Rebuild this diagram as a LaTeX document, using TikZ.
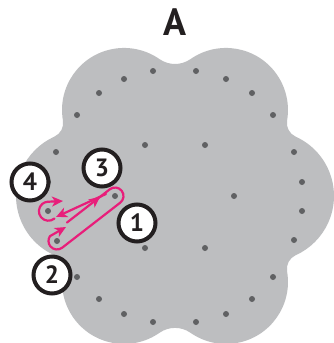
\documentclass[tikz,border=0pt]{standalone}
\usepackage{fontspec}
\setmainfont{PT Sans}
\usetikzlibrary{arrows.meta,decorations.markings}
\definecolor{shapegray}{RGB}{189,190,192}
\definecolor{dotgray}{RGB}{96,97,99}
\definecolor{threadpink}{RGB}{232,30,122}
\definecolor{inkblack}{RGB}{35,31,32}
\tikzset{
  peg/.style={circle,fill=dotgray,inner sep=0pt,minimum size=6pt},
  numcircle/.style={circle,draw=inkblack,line width=4pt,fill=white,minimum size=37pt,inner sep=0pt,
    font=\fontsize{25}{25}\selectfont\bfseries,text=inkblack},
  thread/.style={draw=threadpink,line width=2.2pt,line cap=round,line join=round},
  endtip/.style={-{Stealth[length=11pt,width=10pt,inset=3pt]}},
  midtip/.style={postaction={decorate},decoration={markings,
    mark=at position #1 with {\arrow[threadpink]{Stealth[length=11pt,width=10pt,inset=3pt]}}}}
}
\begin{document}
\begin{tikzpicture}[x=1pt,y=1pt]
\fill[white] (0,0) rectangle (333,-343);
\useasboundingbox (0,0) rectangle (333,-343);
% flower shaped board
\fill[shapegray] (175,-64)
  arc[start angle=270, end angle=304.94, radius=27pt]
  arc[start angle=124.94, end angle=-9.77, radius=62pt]
  arc[start angle=170.23, end angle=245.73, radius=15pt]
  arc[start angle=65.73, end angle=-65.73, radius=65pt]
  arc[start angle=114.27, end angle=189.77, radius=15pt]
  arc[start angle=9.77, end angle=-124.94, radius=62pt]
  arc[start angle=55.06, end angle=124.94, radius=27pt]
  arc[start angle=304.94, end angle=170.23, radius=62pt]
  arc[start angle=-9.77, end angle=65.73, radius=15pt]
  arc[start angle=245.73, end angle=114.27, radius=65pt]
  arc[start angle=-65.73, end angle=9.77, radius=15pt]
  arc[start angle=189.77, end angle=55.06, radius=62pt]
  arc[start angle=235.06, end angle=270, radius=27pt] -- cycle;
% pegs
\foreach \x/\y [count=\i] in {153/71,196/71,124/79,226/79,99/93,252/93,77/115,273/115,
  56/152,294/152,48/182,302/182,302/211,294/240,
  77/277,273/277,99/299,252/299,124/314,226/314,153/322,196/322,
  145/145,205/145,234/196,145/248,205/248}
  \node[peg] (d\i) at (\x,-\y) {};
\node[peg] (p1) at (115,-196) {};
\node[peg] (p2) at (57,-241) {};
\node[peg] (p4) at (48,-211) {};
% title
\node[font=\fontsize{38}{38}\selectfont\bfseries,text=inkblack,anchor=base] (title) at (175,-35) {A};
% thread
\draw[thread,endtip] (120.2,-202.7) -- (62.2,-247.7)
  arc[start angle=-52.2, end angle=-215, radius=8.5pt] -- (66,-227);
\draw[thread,midtip=42pt] (67,-222.5) -- (109.8,-189.3)
  arc[start angle=127.8, end angle=-52.2, radius=8.5pt];
\draw[thread,endtip] (106,-194) -- (56,-217);
\draw[thread,endtip] (54.5,-218.5)
  arc[start angle=-50, end angle=-265, radius=9.5pt] -- (63,-201);
% numbers
\node[numcircle] (n1) at (137,-223) {1};
\node[numcircle] (n2) at (52,-275) {2};
\node[numcircle] (n3) at (102,-168) {3};
\node[numcircle] (n4) at (30,-182) {4};
\end{tikzpicture}
\end{document}
